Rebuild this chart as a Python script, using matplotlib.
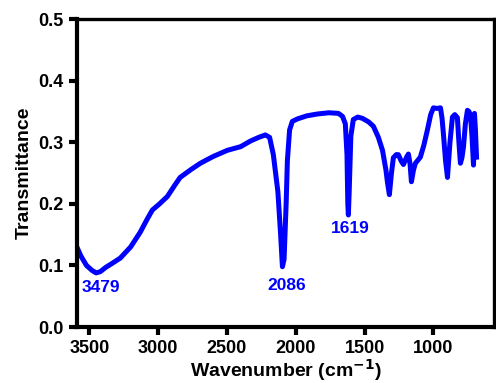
import matplotlib
matplotlib.use("Agg")
import matplotlib.pyplot as plt

plt.rcParams['font.family'] = ['Liberation Sans', 'DejaVu Sans']
plt.rcParams['font.weight'] = 'bold'

# spectre FTIR
nombre_onde = [3590, 3560, 3520, 3480, 3450, 3420, 3380, 3330, 3275, 3200,
               3130, 3080, 3042, 2990, 2933, 2880, 2840, 2760, 2693, 2600,
               2497, 2400, 2330, 2270, 2221, 2190, 2163, 2130, 2110, 2097,
               2085, 2070, 2061, 2045, 2025, 1988, 1920, 1843, 1760, 1690,
               1660, 1640, 1628, 1622, 1618, 1612, 1600, 1582, 1550, 1516,
               1470, 1436, 1400, 1370, 1345, 1334, 1320, 1305, 1291, 1270,
               1255, 1235, 1218, 1195, 1182, 1170, 1160, 1145, 1131, 1095,
               1070, 1044, 1020, 1000, 975, 949, 938, 928, 912, 898,
               880, 862, 845, 826, 815, 804, 793, 782, 768, 753,
               742, 731, 720, 709, 705, 702, 695, 687]
transmittance = [0.130, 0.115, 0.100, 0.092, 0.088, 0.090, 0.097, 0.104, 0.112, 0.130,
                 0.154, 0.175, 0.190, 0.200, 0.212, 0.230, 0.243, 0.256, 0.266, 0.277,
                 0.287, 0.293, 0.302, 0.308, 0.312, 0.308, 0.280, 0.220, 0.150, 0.098,
                 0.110, 0.200, 0.270, 0.320, 0.334, 0.338, 0.343, 0.346, 0.348, 0.347,
                 0.342, 0.330, 0.280, 0.200, 0.182, 0.220, 0.310, 0.337, 0.341, 0.339,
                 0.333, 0.326, 0.308, 0.287, 0.255, 0.235, 0.215, 0.250, 0.275, 0.280,
                 0.280, 0.270, 0.264, 0.276, 0.281, 0.265, 0.236, 0.255, 0.266, 0.276,
                 0.295, 0.320, 0.345, 0.356, 0.355, 0.356, 0.340, 0.315, 0.270, 0.243,
                 0.300, 0.341, 0.345, 0.340, 0.300, 0.266, 0.275, 0.292, 0.330, 0.352,
                 0.350, 0.344, 0.310, 0.263, 0.300, 0.347, 0.320, 0.276]

pics = ["3479", "2086", "1619"]
pics_x = [3413, 2068, 1603]
pics_y = [0.064, 0.068, 0.160]

bleu = "#0000ff"

fig = plt.figure(figsize=(4.96, 3.83), dpi=100)
ax = fig.add_axes([0.155, 0.146, 0.841, 0.804])

ax.plot(nombre_onde, transmittance, color=bleu, lw=3.6, solid_joinstyle='round')

for t, x, y in zip(pics, pics_x, pics_y):
    ax.text(x, y, t, color=bleu, fontsize=12.5, fontweight='bold', ha='center', va='center')

ax.set_xlim(3590, 560)
ax.set_ylim(0, 0.5)
ax.set_xticks([3500, 3000, 2500, 2000, 1500, 1000])
ax.set_yticks([0.0, 0.1, 0.2, 0.3, 0.4, 0.5])
ax.set_yticklabels(["0.0", "0.1", "0.2", "0.3", "0.4", "0.5"])

for s in ['left', 'bottom']:
    ax.spines[s].set_linewidth(3)
for s in ['top', 'right']:
    ax.spines[s].set_linewidth(2.4)

ax.tick_params(axis='both', direction='out', length=6, width=3, labelsize=13)
for lab in ax.get_xticklabels() + ax.get_yticklabels():
    lab.set_fontweight('bold')

ax.set_xlabel("Wavenumber (cm$^{\\mathbf{-1}}$)", fontsize=14, fontweight='bold', labelpad=0)
ax.set_ylabel("Transmittance", fontsize=14, fontweight='bold', labelpad=4)

plt.savefig("out.png", dpi=100)
